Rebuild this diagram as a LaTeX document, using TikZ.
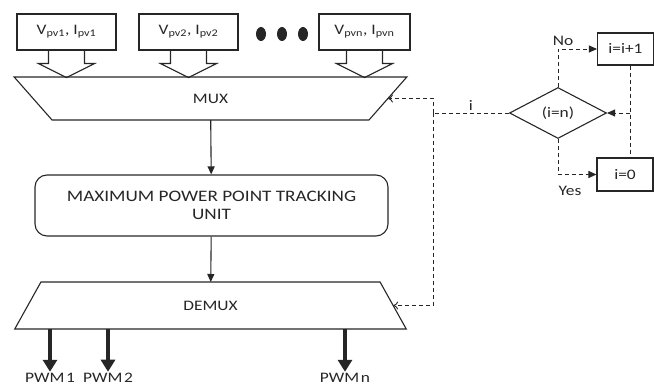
\documentclass[tikz,border=0pt]{standalone}
\usepackage{fontspec}
\setmainfont{Carlito}[FakeStretch=1.2]
\usetikzlibrary{arrows.meta,shapes.geometric,positioning}

\begin{document}
\begin{tikzpicture}[x=1pt,y=-1pt,>={Triangle[length=8pt,width=7pt]},
                line width=1.1pt,color=black!85,
                font=\fontsize{14.5}{21}\selectfont,
                in node/.style={rectangle,draw,minimum width=99pt,minimum height=36pt,inner sep=0pt},
                mux node/.style={trapezium,draw,trapezium stretches=true,shape border rotate=180,
                        trapezium left angle=66,trapezium right angle=66,
                        minimum width=393pt,minimum height=43pt,inner sep=0pt,outer sep=0pt},
                flow node/.style={rectangle,draw,minimum width=56pt,minimum height=32pt,inner sep=0pt},
                fb/.style={dashed,dash pattern=on 4pt off 3pt,line width=0.9pt},
                pwm/.style={line width=4.5pt,-{Triangle[length=12pt,width=14pt]}}]
                \useasboundingbox (0,0) rectangle (654,387);

                % inputs
                \node[in node] (in1) at (66.5,32) {V\textsubscript{pv1}, I\textsubscript{pv1}};
                \node[in node] (in2) at (188.5,32) {V\textsubscript{pv2}, I\textsubscript{pv2}};
                \node[in node,minimum width=91pt] (in3) at (364.5,32) {V\textsubscript{pvn}, I\textsubscript{pvn}};
                \foreach \x in {261,282,303}
                    \fill (\x,34) ellipse (5pt and 7pt);
                \foreach \n in {in1,in2,in3}
                    \draw (\n.south) ++(-18,0) -- ++(0,13) -- ++(-10,0) -- ++(28,14)
                          -- ++(28,-14) -- ++(-10,0) -- ++(0,-13);

                % main chain
                \node[mux node] (mux) at (210.5,98.5) {MUX};
                \node[draw,rounded corners=12pt,minimum width=353pt,minimum height=61pt,align=center,
                      font=\fontsize{16}{21}\selectfont]
                      (mppt) at (211.5,205.5) {\raisebox{-3pt}{MAXIMUM POWER POINT TRACKING}\\UNIT};
                \node[mux node,shape border rotate=0,minimum height=47pt] (demux) at (210.5,305.5) {DEMUX};

                \path[->]
                (mux) edge (mppt)
                (mppt) edge (demux);

                % outputs
                \node[inner sep=1pt] (p1) at (50,378) {PWM\hspace{0.12em}1};
                \node[inner sep=1pt] (p2) at (108,378) {PWM\hspace{0.12em}2};
                \node[inner sep=1pt] (pn) at (345,378) {PWM\hspace{0.12em}n};
                \foreach \p in {p1,p2,pn}
                    \draw[pwm] (\p |- demux.south) -- (\p.north);

                % counter
                \node[diamond,draw,minimum width=97pt,minimum height=51pt,inner sep=0pt] (dec) at (558,113) {(i=n)};
                \node[flow node] (inc) at (625.5,49) {i=i+1};
                \node[flow node,minimum height=33pt] (zero) at (625,174.5) {i=0};
                \coordinate (j) at (433,113);
                \coordinate (k) at (630,113);

                \draw[fb] (dec.west) -- node[above,inner sep=2pt] {i} (j);
                \draw[fb,-{To[length=5pt,width=8pt]}] (j) |- (mux.east);
                \draw[fb,-{To[length=5pt,width=8pt]}] (j) |- (demux.east);
                \draw[fb,->] (dec.north) |- node[pos=0.5,above,xshift=5pt] {No} (inc.west);
                \draw[fb,->] (dec.south) |- node[pos=0.5,below,yshift=-8pt,xshift=12pt] {Yes} (zero.west);
                \draw[fb] (k |- inc.south) -- (k |- zero.north);
                \draw[fb,->] (k) -- (dec.east);
\end{tikzpicture}
\end{document}
